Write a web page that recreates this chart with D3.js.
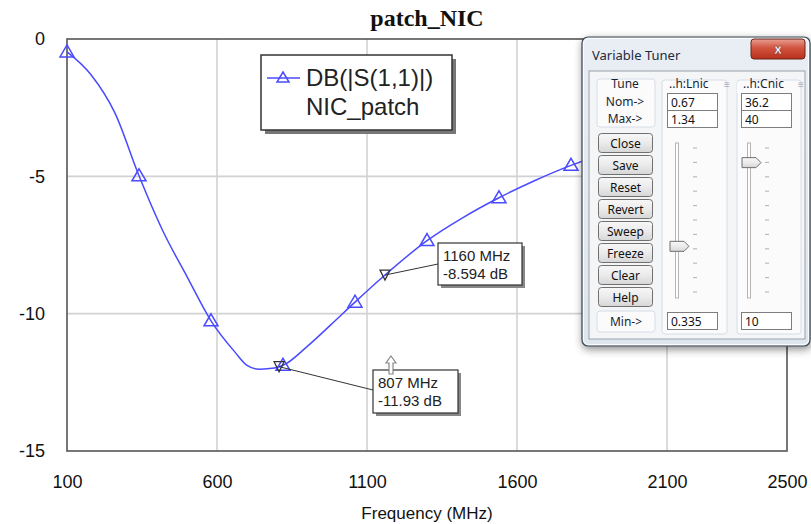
<!DOCTYPE html>
<html><head><meta charset="utf-8">
<script src="https://cdn.jsdelivr.net/npm/d3@7"></script>
<style>
html,body{margin:0;padding:0;background:#fff;overflow:hidden}
svg{display:block}
</style></head><body>
<svg id="chart" width="811" height="524"></svg>
<script>
// Swept response of DB(|S(1,1)|) for NIC_patch
const freqMHz = [100,180,260,340,420,500,580,660,700,740,775,807,820,900,980,1060,1160,1300,1420,1540,1660,1780,1900,2020,2140,2260,2380,2500];
const s11dB   = [-0.47,-1.3,-2.7,-4.98,-7.0,-8.65,-10.26,-11.4,-11.88,-12.02,-12.0,-11.93,-11.88,-11.2,-10.4,-9.58,-8.594,-7.34,-6.5,-5.78,-5.15,-4.6,-4.15,-3.8,-3.5,-3.25,-3.05,-2.9];
// Frequencies carrying a triangle symbol
const symbolFreqs = [100,340,580,820,1060,1300,1540,1780,2020,2260,2500];
// Readout markers
const markerFreqs = [807,1160];
// Axis ticks
const xTicks = [100,600,1100,1600,2100,2500];
const yTicks = [0,-5,-10,-15];
const xGrid = [600,1100,1600,2100];
const yGrid = [-5,-10];
// Tuner variables
const tunerNames = ["..h:Lnic","..h:Cnic"];
const tunerNom = ["0.67","36.2"];
const tunerMax = ["1.34","40"];
const tunerMin = ["0.335","10"];
const tunerButtons = ["Close","Save","Reset","Revert","Sweep","Freeze","Clear","Help"];

const svg = d3.select("#chart");
const sans = "'Liberation Sans', Arial, sans-serif";
const ui = "'Noto Sans', 'Open Sans', sans-serif";

const x = d3.scaleLinear().domain([100,2500]).range([67,787]);
const y = d3.scaleLinear().domain([0,-15]).range([39,451]);
const data = freqMHz.map((f,i)=>({f, v:s11dB[i]}));
const lookup = new Map(data.map(d=>[d.f,d.v]));

const defs = svg.append("defs");
const sh = defs.append("filter").attr("id","winShadow").attr("x","-10%").attr("y","-10%").attr("width","130%").attr("height","130%");
sh.append("feDropShadow").attr("dx",1).attr("dy",3).attr("stdDeviation",4).attr("flood-color","#000").attr("flood-opacity",0.45);

// Title
svg.append("text").attr("x",427).attr("y",26).attr("text-anchor","middle")
  .attr("font-family","'Liberation Serif', 'Times New Roman', serif").attr("font-weight","bold")
  .attr("font-size",24).attr("fill","#111").text("patch_NIC");

// Grid
svg.append("g").selectAll("line").data(xGrid).join("line")
  .attr("x1",d=>x(d)).attr("x2",d=>x(d)).attr("y1",y(0)).attr("y2",y(-15))
  .attr("stroke","#d2d2d2").attr("stroke-width",1.6);
svg.append("g").selectAll("line").data(yGrid).join("line")
  .attr("y1",d=>y(d)).attr("y2",d=>y(d)).attr("x1",x(100)).attr("x2",x(2500))
  .attr("stroke","#d2d2d2").attr("stroke-width",1.6);

// Frame
svg.append("rect").attr("x",x(100)).attr("y",y(0)).attr("width",x(2500)-x(100)).attr("height",y(-15)-y(0))
  .attr("fill","none").attr("stroke","#555").attr("stroke-width",1.6);

// Axes (labels only)
const fmt = d => String(d);
const xAxis = svg.append("g").attr("transform",`translate(0,${y(-15)})`)
  .call(d3.axisBottom(x).tickValues(xTicks).tickFormat(fmt).tickSize(0).tickPadding(24));
const yAxis = svg.append("g").attr("transform",`translate(${x(100)},0)`)
  .call(d3.axisLeft(y).tickValues(yTicks).tickFormat(fmt).tickSize(0).tickPadding(22));
[xAxis,yAxis].forEach(g=>{
  g.select(".domain").remove();
  g.selectAll("text").attr("font-family",sans).attr("font-size",18).attr("fill","#111");
});
svg.append("text").attr("x",427).attr("y",519).attr("text-anchor","middle")
  .attr("font-family",sans).attr("font-size",17).attr("fill","#111").text("Frequency (MHz)");

// Trace
const blue = "#4a4aff";
const line = d3.line().x(d=>x(d.f)).y(d=>y(d.v)).curve(d3.curveMonotoneX);
svg.append("path").datum(data).attr("d",line).attr("fill","none").attr("stroke",blue).attr("stroke-width",1.5);
const tri = "M0,-7L7,5L-7,5Z";
svg.append("g").selectAll("path").data(symbolFreqs.map(f=>({f, v:lookup.get(f)}))).join("path")
  .attr("d",tri).attr("transform",d=>`translate(${x(d.f)},${y(d.v)})`)
  .attr("fill","none").attr("stroke",blue).attr("stroke-width",1.5);

// Legend
const lg = svg.append("g");
lg.append("rect").attr("x",265).attr("y",59).attr("width",191).attr("height",75).attr("fill","#777");
lg.append("rect").attr("x",261).attr("y",55).attr("width",191).attr("height",75).attr("fill","#fff").attr("stroke","#333").attr("stroke-width",1.5);
lg.append("line").attr("x1",267).attr("x2",300).attr("y1",78).attr("y2",78).attr("stroke",blue).attr("stroke-width",1.5);
lg.append("path").attr("d","M0,-6L6,4L-6,4Z").attr("transform","translate(283,78)").attr("fill","none").attr("stroke",blue).attr("stroke-width",1.5);
lg.append("text").attr("x",306).attr("y",86).attr("font-family",sans).attr("font-size",24).attr("fill","#222").text("DB(|S(1,1)|)");
lg.append("text").attr("x",306).attr("y",115).attr("font-family",sans).attr("font-size",24).attr("fill","#222").text("NIC_patch");

// Readout markers
const boxes = [{bx:373,by:370,w:85,h:43,ax:373,ay:390},{bx:438,by:243,w:84,h:42,ax:438,ay:264}];
markerFreqs.forEach((f,i)=>{
  const v = lookup.get(f), px = x(f), py = y(v), b = boxes[i];
  const g = svg.append("g");
  g.append("line").attr("x1",px).attr("y1",py).attr("x2",b.ax).attr("y2",b.ay).attr("stroke","#333").attr("stroke-width",1);
  g.append("path").attr("d","M-5,-5L5,-5L0,5Z").attr("transform",`translate(${px},${py})`)
    .attr("fill","none").attr("stroke","#333").attr("stroke-width",1.3);
  g.append("rect").attr("x",b.bx+3).attr("y",b.by+3).attr("width",b.w).attr("height",b.h).attr("fill","#888");
  g.append("rect").attr("x",b.bx).attr("y",b.by).attr("width",b.w).attr("height",b.h).attr("fill","#fff").attr("stroke","#333").attr("stroke-width",1.2);
  g.append("text").attr("x",b.bx+5).attr("y",b.by+18).attr("font-family",sans).attr("font-size",15).attr("fill","#222").text(`${f} MHz`);
  g.append("text").attr("x",b.bx+5).attr("y",b.by+36).attr("font-family",sans).attr("font-size",15).attr("fill","#222").text(`${v} dB`);
});
// Drag handle above the first readout
svg.append("path").attr("d","M391,356L396,363L393,363L393,374L389,374L389,363L386,363Z")
  .attr("fill","#fff").attr("stroke","#888").attr("stroke-width",1.2);

// Variable Tuner window
const tw = svg.append("g").attr("font-family",ui);
const gFrame = defs.append("linearGradient").attr("id","frameGrad").attr("x1",0).attr("y1",0).attr("x2",0).attr("y2",1);
gFrame.append("stop").attr("offset","0%").attr("stop-color","#e9eef4");
gFrame.append("stop").attr("offset","100%").attr("stop-color","#dfe5ec");
tw.append("rect").attr("x",582).attr("y",37).attr("width",228).attr("height",309).attr("rx",6)
  .attr("fill","url(#frameGrad)").attr("stroke","#3e4650").attr("stroke-width",1.2).attr("filter","url(#winShadow)");
tw.append("rect").attr("x",583.5).attr("y",38.5).attr("width",225).attr("height",306).attr("rx",5)
  .attr("fill","none").attr("stroke","#f8fbff").attr("stroke-width",1);
tw.append("text").attr("x",592).attr("y",60).attr("font-size",13).attr("fill","#1e2a40").text("Variable Tuner");
const gClose = defs.append("linearGradient").attr("id","closeGrad").attr("x1",0).attr("y1",0).attr("x2",0).attr("y2",1);
gClose.append("stop").attr("offset","0%").attr("stop-color","#e8a093");
gClose.append("stop").attr("offset","45%").attr("stop-color","#d2533f");
gClose.append("stop").attr("offset","100%").attr("stop-color","#b8301c");
tw.append("rect").attr("x",751).attr("y",39).attr("width",54).attr("height",20).attr("rx",3)
  .attr("fill","url(#closeGrad)").attr("stroke","#6b2218").attr("stroke-width",1);
tw.append("text").attr("x",778).attr("y",54).attr("text-anchor","middle").attr("font-size",14).attr("font-weight","bold")
  .attr("fill","#fff").attr("stroke","#7a2a20").attr("stroke-width",0.5).text("x");

// client area
tw.append("rect").attr("x",589).attr("y",71).attr("width",216).attr("height",268)
  .attr("fill","#f4f5f7").attr("stroke","#98a2ae").attr("stroke-width",1);
const groupBox = (gx,gy,gw,gh)=>tw.append("rect").attr("x",gx).attr("y",gy).attr("width",gw).attr("height",gh).attr("rx",3)
  .attr("fill","#fbfbfc").attr("stroke","#d6dee8").attr("stroke-width",1);
groupBox(597,79,58,48);
groupBox(597,311,58,21);
groupBox(662,80,65,254);
groupBox(737,80,64,254);
const label = (tx,ty,t,anchor="middle")=>tw.append("text").attr("x",tx).attr("y",ty).attr("text-anchor",anchor)
  .attr("font-size",12).attr("fill","#1a1f33").text(t);
label(625,88,"Tune"); label(625,106,"Nom->"); label(625,123,"Max->"); label(626,326,"Min->");

// buttons
const gBtn = defs.append("linearGradient").attr("id","btnGrad").attr("x1",0).attr("y1",0).attr("x2",0).attr("y2",1);
gBtn.append("stop").attr("offset","0%").attr("stop-color","#f7f7f7");
gBtn.append("stop").attr("offset","50%").attr("stop-color","#ebebeb");
gBtn.append("stop").attr("offset","100%").attr("stop-color","#d6d6d6");
tunerButtons.forEach((b,i)=>{
  const cy = 143 + i*22;
  tw.append("rect").attr("x",598.5).attr("y",cy-9.5).attr("width",54).attr("height",19).attr("rx",3)
    .attr("fill","url(#btnGrad)").attr("stroke","#707070").attr("stroke-width",1);
  tw.append("text").attr("x",625.5).attr("y",cy+4.5).attr("text-anchor","middle").attr("font-size",12).attr("fill","#111").text(b);
});

// variable columns
const colX = [667,741];
const trackX = [677,749];
const sliderTop = 143, sliderBot = 298;
tunerNames.forEach((n,i)=>{
  const cx = colX[i];
  tw.append("rect").attr("x",cx-4).attr("y",82).attr("width",58).attr("height",11).attr("fill","#fbfbfc");
  label(cx+2,88,n,"start");
  tw.append("text").attr("x",cx+57).attr("y",88).attr("font-size",10).attr("fill","#aab").text("≡");
  const box = (by,bh,t)=>{
    tw.append("rect").attr("x",cx+0.5).attr("y",by+0.5).attr("width",50).attr("height",bh).attr("fill","#fff").attr("stroke","#7d7d7d").attr("stroke-width",1);
    tw.append("text").attr("x",cx+4).attr("y",by+bh-3.5).attr("font-size",12).attr("fill","#111").text(t);
  };
  box(93,17,tunerNom[i]);
  box(110,17,tunerMax[i]);
  box(312,17,tunerMin[i]);
  // slider
  const tx = trackX[i];
  tw.append("rect").attr("x",tx-1.5).attr("y",sliderTop).attr("width",3).attr("height",sliderBot-sliderTop)
    .attr("fill","#fff").attr("stroke","#b4b4b4").attr("stroke-width",1);
  const ticks = d3.range(11);
  const ty = d3.scaleLinear().domain([0,10]).range([sliderTop+5,sliderBot-6]);
  tw.append("g").selectAll("line").data(ticks).join("line")
    .attr("x1",tx+16).attr("x2",tx+20).attr("y1",d=>ty(d)).attr("y2",d=>ty(d))
    .attr("stroke","#b0b0b0").attr("stroke-width",1);
  const pos = d3.scaleLinear().domain([+tunerMax[i], +tunerMin[i]]).range([sliderTop, sliderBot]);
  const thumbY = pos(+tunerNom[i]);
  tw.append("path").attr("d",`M${tx-7},${thumbY-5}h14l5,5l-5,5h-14z`)
    .attr("fill","url(#btnGrad)").attr("stroke","#6f6f6f").attr("stroke-width",1);
});
</script>
</body></html>
